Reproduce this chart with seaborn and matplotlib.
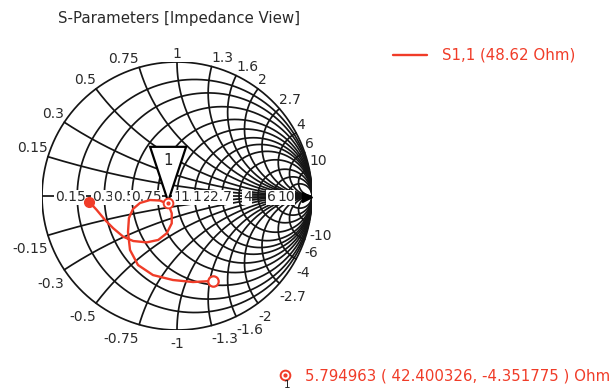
import numpy as np
import matplotlib
matplotlib.use("Agg")
import matplotlib.pyplot as plt
import seaborn as sns
from matplotlib.patches import Polygon

# ---------------- data ----------------
title = "S-Parameters [Impedance View]"
series_name = "S1,1 (48.62 Ohm)"
z0 = 48.62
grid_values = [0.15, 0.3, 0.5, 0.75, 1, 1.3, 1.6, 2, 2.7, 4, 6, 10]
grid_labels = ["0.15", "0.3", "0.5", "0.75", "1", "1.3", "1.6", "2", "2.7", "4", "6", "10"]

trace_re = [-0.650, -0.595, -0.533, -0.472, -0.398, -0.324, -0.224, -0.139, -0.076,
            -0.039, -0.039, -0.057, -0.067, -0.126, -0.200, -0.274, -0.326, -0.356,
            -0.363, -0.348, -0.289, -0.178, -0.030, 0.119, 0.264]
trace_im = [-0.043, -0.104, -0.179, -0.241, -0.304, -0.336, -0.346, -0.328, -0.278,
            -0.204, -0.129, -0.080, -0.060, -0.034, -0.030, -0.052, -0.097, -0.164,
            -0.269, -0.403, -0.515, -0.590, -0.627, -0.642, -0.634]

marker_label = "1"
marker_freq = "5.794963"
marker_r = 42.400326
marker_x = -4.351775

# ---------------- style / layout ----------------
RED = "#f03c28"
GRID = "#151515"
TXT = "#2a2a2a"
W, H = 614, 390
FS = 10
FS_BIG = 10.8

sns.set_theme(style="white")
plt.rcParams["font.family"] = ["DejaVu Sans"]

fig = plt.figure(figsize=(W / 100, H / 100), dpi=100)
fig.patch.set_facecolor("white")
ax = fig.add_axes([42 / W, 1 - 330 / H, 270 / W, 268 / H])
ax.set_xlim(-1, 1)
ax.set_ylim(-1, 1)
ax.set_axis_off()

LW = 1.25
t = np.linspace(0, 2 * np.pi, 600)
# outer circle
ax.plot(np.cos(t), np.sin(t), color=GRID, lw=LW, zorder=1)
# real axis
ax.plot([-1, 1], [0, 0], color=GRID, lw=LW, zorder=1)
# resistance circles
for r in grid_values:
    c, rad = r / (1 + r), 1 / (1 + r)
    ax.plot(c + rad * np.cos(t), rad * np.sin(t), color=GRID, lw=LW, zorder=1)
# reactance arcs
for xv in grid_values:
    for s in (1, -1):
        cy, rad = s / xv, 1 / xv
        gb = complex(xv * xv - 1, 2 * s * xv) / (xv * xv + 1)
        a0 = -s * np.pi / 2
        a1 = np.arctan2(gb.imag - cy, gb.real - 1)
        d = (a1 - a0 + np.pi) % (2 * np.pi) - np.pi
        aa = np.linspace(a0, a0 + d, 200)
        ax.plot(1 + rad * np.cos(aa), cy + rad * np.sin(aa), color=GRID, lw=LW, zorder=1)

# reactance labels around the rim
for xv, lab in zip(grid_values, grid_labels):
    for s in (1, -1):
        gb = complex(xv * xv - 1, 2 * s * xv) / (xv * xv + 1)
        if abs(gb.real) < 0.05:
            ha = "center"
        elif gb.real < 0:
            ha = "right"
        else:
            ha = "left"
        text = lab if s > 0 else "-" + lab
        if s > 0:
            ax.annotate(text, (gb.real, gb.imag), xytext=(0, 1), textcoords="offset points",
                        ha=ha, va="bottom", fontsize=FS, color=TXT, annotation_clip=False)
        else:
            ax.annotate(text, (gb.real, gb.imag), xytext=(0, -5), textcoords="offset points",
                        ha=ha, va="top", fontsize=FS, color=TXT, annotation_clip=False)

# real-axis labels (drawn in order, each covering the previous)
real_label_left = [-0.904, -0.630, -0.474, -0.341, -0.030, 0.022, 0.111, 0.193, 0.244,
                   0.489, 0.667, 0.741]
for i, (lx, lab) in enumerate(zip(real_label_left, grid_labels)):
    ax.text(lx, -0.01, lab, ha="left", va="center", fontsize=FS, color=TXT, zorder=3 + i * 0.01,
            bbox=dict(boxstyle="square,pad=0.05", fc="white", ec="none"))

ax.plot([0.965], [-0.01], marker=">", color="black", markersize=7, zorder=4, clip_on=False)

# trace
sns.lineplot(x=trace_re, y=trace_im, sort=False, estimator=None, color=RED, lw=1.7,
             ax=ax, zorder=5, legend=False)
ax.plot(trace_re[0], trace_im[0], "o", color=RED, markersize=7, zorder=6)
ax.plot(trace_re[-1], trace_im[-1], "o", mfc="white", mec=RED, mew=1.6, markersize=7.5, zorder=6)

# marker
zn = complex(marker_r, marker_x) / z0
gm = (zn - 1) / (zn + 1)
ax.plot(gm.real, gm.imag, "o", mfc="white", mec=RED, mew=1.4, markersize=7, zorder=7)
ax.plot(gm.real, gm.imag, "o", color=RED, markersize=2, zorder=8)
tri_dx, tri_dy = 18 / 135, 56 / 134
tri = Polygon([[gm.real - tri_dx, gm.imag + tri_dy], [gm.real + tri_dx, gm.imag + tri_dy],
               [gm.real, gm.imag + 0.01]], closed=True, fc="white", ec="black", lw=1.6, zorder=6.5)
ax.add_patch(tri)
ax.text(gm.real, gm.imag + tri_dy * 0.75, marker_label, ha="center", va="center",
        fontsize=FS_BIG, color="#222222", zorder=7)

# title
fig.text(58 / W, 1 - 18 / H, title, ha="left", va="center", fontsize=FS_BIG, color=TXT)

# legend
fig.add_artist(plt.Line2D([393 / W, 427 / W], [1 - 55 / H, 1 - 55 / H], color=RED, lw=1.7))
fig.text(442 / W, 1 - 55 / H, series_name, ha="left", va="center", fontsize=FS_BIG, color=RED)

# marker readout
fig.add_artist(plt.Line2D([285 / W], [1 - 375 / H], marker="o", mfc="white", mec=RED, mew=1.4,
                          markersize=7, ls="none"))
fig.add_artist(plt.Line2D([285 / W], [1 - 375 / H], marker="o", color=RED, markersize=2, ls="none"))
fig.text(287 / W, 1 - 385 / H, marker_label, ha="center", va="center", fontsize=7.5, color="#222222")
fig.text(305 / W, 1 - 376 / H,
         f"{marker_freq} ( {marker_r:.6f}, {marker_x:.6f} ) Ohm",
         ha="left", va="center", fontsize=FS_BIG, color=RED)

fig.savefig("out.png", dpi=100, facecolor="white")
